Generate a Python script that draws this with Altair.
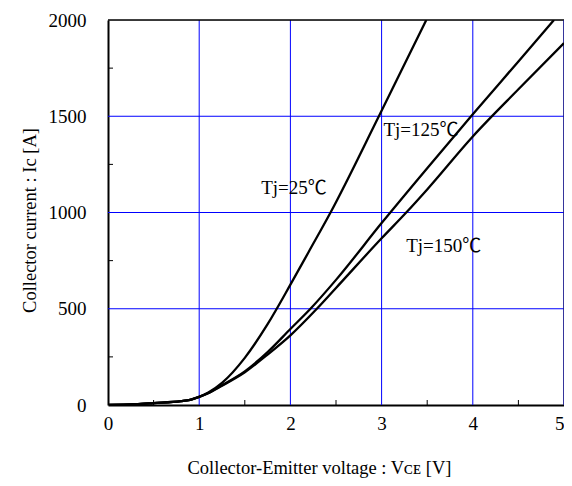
import altair as alt
import pandas as pd

# Data
v25 = [0, 0.3, 0.5, 0.8, 0.9, 1.0, 1.1, 1.25, 1.5, 1.75, 2.0, 2.2, 2.44, 2.97, 3.49]
i25 = [0, 4, 10, 20, 27, 43, 65, 115, 245, 420, 625, 795, 1000, 1500, 2000]

v125 = [0, 0.3, 0.5, 0.8, 0.9, 1.0, 1.1, 1.25, 1.5, 1.75, 2.0, 2.22, 2.5, 3.0, 3.5, 4.0, 4.5, 4.89]
i125 = [0, 4, 10, 20, 27, 42, 62, 103, 175, 275, 395, 500, 650, 945, 1230, 1510, 1785, 2000]

v150 = [0, 0.3, 0.5, 0.8, 0.9, 1.0, 1.1, 1.25, 1.5, 1.75, 2.0, 2.29, 2.5, 3.0, 3.27, 3.5, 4.0, 4.5, 5.0]
i150 = [0, 4, 10, 20, 27, 42, 61, 100, 170, 262, 362, 500, 608, 866, 1000, 1120, 1395, 1640, 1880]

labels = ["Tj=25℃", "Tj=125℃", "Tj=150℃"]
label_x = [1.68, 3.02, 3.27]
label_y = [1096, 1397, 796]

x_ticks = [0, 1, 2, 3, 4, 5]
y_ticks = [0, 500, 1000, 1500, 2000]
x_grid = [1, 2, 3, 4, 5]
y_grid = [500, 1000, 1500]
x_minor = [0.5, 1.5, 2.5, 3.5, 4.5]
y_minor = [250, 750, 1250, 1750]

rows = []
for name, vs, cs in [("25", v25, i25), ("125", v125, i125), ("150", v150, i150)]:
    for k, (v, c) in enumerate(zip(vs, cs)):
        rows.append({"series": name, "v": v, "i": c, "order": k})
df = pd.DataFrame(rows)
lab = pd.DataFrame({"text": labels, "v": label_x, "i": label_y})

SERIF = "Liberation Serif"
LABELFONT = "Liberation Serif, Noto Sans CJK JP"
xs = alt.Scale(domain=[0, 5], nice=False, zero=False)
ys = alt.Scale(domain=[0, 2000], nice=False, zero=False)

W, H = 456, 385

x_axis = alt.Axis(
    values=x_ticks, format="d", grid=False, ticks=False, labelPadding=9, labelFlush=False,
    labelAlign={"condition": {"test": "datum.value >= 5", "value": "right"}, "value": "center"},
    labelFont=SERIF, labelFontSize=19, labelColor="black",
    domainColor="black", domainWidth=2,
    title="Collector-Emitter voltage : Vᴄᴇ [V]", titleFont=SERIF, titleFontSize=18.5,
    titleFontWeight="normal", titleColor="black", titleX=211, titleY=68,
    titleAlign="center", titleBaseline="alphabetic")
y_axis = alt.Axis(
    values=y_ticks, format="d", grid=False, ticks=False, labelPadding=22, labelFlush=False,
    labelFont=SERIF, labelFontSize=19, labelColor="black",
    domainColor="black", domainWidth=2,
    title="Collector current : Ic [A]", titleFont=SERIF, titleFontSize=18.5,
    titleFontWeight="normal", titleColor="black", titleX=-73, titleY=200,
    titleAlign="center", titleBaseline="alphabetic", titleAngle=270)

X = lambda: alt.X("v:Q", scale=xs, axis=x_axis)
Y = lambda: alt.Y("i:Q", scale=ys, axis=y_axis)

gx = alt.Chart(pd.DataFrame({"v": x_grid})).mark_rule(color="#0000ff", strokeWidth=1).encode(x=X())
gy = alt.Chart(pd.DataFrame({"i": y_grid})).mark_rule(color="#0000ff", strokeWidth=1).encode(y=Y())

mx = alt.Chart(pd.DataFrame({"v": x_minor})).mark_rule(color="black", strokeWidth=1).encode(
    x=X(), y=alt.value(H), y2=alt.value(H - 5))
my = alt.Chart(pd.DataFrame({"i": y_minor})).mark_rule(color="black", strokeWidth=1).encode(
    y=Y(), x=alt.value(0), x2=alt.value(5))

top = alt.Chart(pd.DataFrame({"k": [0]})).mark_rule(color="black", strokeWidth=1.5).encode(
    x=alt.value(0), x2=alt.value(W), y=alt.value(0))
right = alt.Chart(pd.DataFrame({"k": [0]})).mark_rule(color="#1c1c7a", strokeWidth=1.5).encode(
    x=alt.value(W), y=alt.value(0), y2=alt.value(H))

lines = alt.Chart(df).mark_line(color="black", strokeWidth=2.3, interpolate="monotone", clip=True).encode(
    x=X(), y=Y(), detail="series:N", order="order:Q")

texts = alt.Chart(lab).mark_text(font=LABELFONT, fontSize=19, color="black", align="left",
                                  baseline="alphabetic").encode(
    x=X(), y=Y(), text="text:N")

chart = alt.layer(gx, gy, mx, my, top, right, lines, texts).properties(
    width=W, height=H,
    autosize=alt.AutoSizeParams(type="none"),
    padding={"left": 100, "top": 12, "right": 0, "bottom": 73},
).configure_view(stroke=None).configure(background="white")

chart.save("out.html", embed_options={"renderer": "svg", "actions": False})
